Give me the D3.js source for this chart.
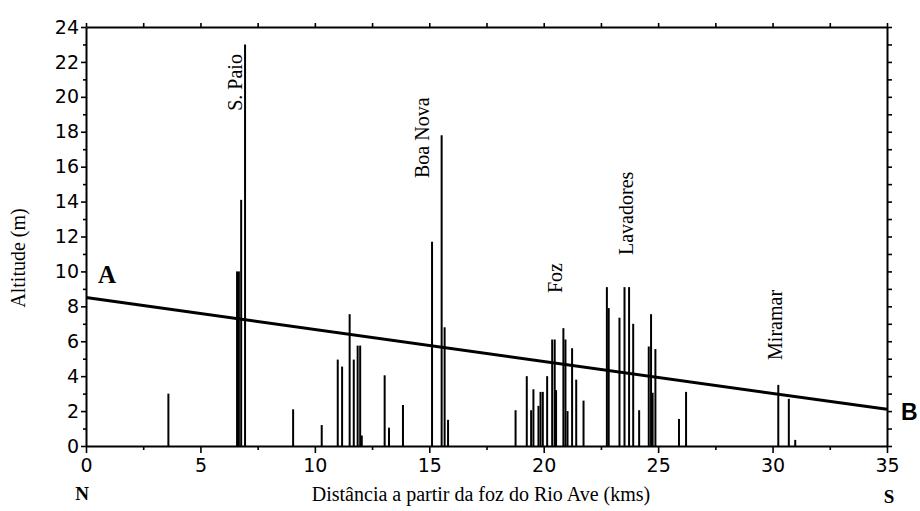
<!DOCTYPE html>
<html>
<head>
<meta charset="utf-8">
<script src="https://cdn.jsdelivr.net/npm/d3@7"></script>
<style>
  body { margin: 0; background: #fff; }
  svg { display: block; }
</style>
</head>
<body>
<svg id="chart" width="920" height="511"></svg>
<script>
// spot heights along the coast (km from the Ave mouth, altitude in m)
const distKm = [3.6, 6.6, 6.68, 6.78, 6.95, 9.05, 10.3, 11.0, 11.19, 11.52, 11.7, 11.87, 11.98, 12.05,
  13.05, 13.24, 13.85, 15.12, 15.54, 15.67, 15.82, 18.77, 19.26, 19.45, 19.55, 19.77, 19.86, 19.96,
  20.15, 20.37, 20.48, 20.54, 20.86, 20.95, 21.04, 21.24, 21.42, 21.74, 22.76, 22.84, 23.31, 23.53,
  23.73, 23.91, 24.17, 24.59, 24.69, 24.76, 24.88, 25.91, 26.22, 30.25, 30.71, 30.99]
const altM = [3.0, 10.0, 10.0, 14.1, 23.0, 2.1, 1.2, 4.95, 4.55, 7.55, 4.95, 5.75, 5.75, 0.6,
  4.05, 1.05, 2.35, 11.7, 17.8, 6.8, 1.5, 2.05, 4.0, 2.05, 3.25, 2.3, 3.1, 3.1,
  4.0, 6.1, 6.1, 3.2, 6.75, 6.1, 2.0, 5.6, 3.8, 2.6, 9.1, 7.9, 7.35, 9.1,
  9.1, 7.0, 2.05, 5.7, 7.55, 3.05, 5.55, 1.55, 3.1, 3.5, 2.7, 0.35]

// line A-B
const lineKm = [0, 35]
const lineAlt = [8.5, 2.1]

const placeNames = ["S. Paio", "Boa Nova", "Foz", "Lavadores", "Miramar"]
const placeKm = [6.8, 15.0, 20.8, 23.88, 30.4]
const placeAlt = [19.2, 15.35, 8.76, 10.94, 4.93]

const xMajor = [0, 5, 10, 15, 20, 25, 30, 35]
const yMajor = [0, 2, 4, 6, 8, 10, 12, 14, 16, 18, 20, 22, 24]

const svg = d3.select("#chart")
const sans = "'DejaVu Sans', Verdana, sans-serif"
const serif = "'Liberation Serif', 'Times New Roman', serif"

let xScale = d3.scaleLinear().domain([0, 35]).range([86, 887])
let yScale = d3.scaleLinear().domain([0, 24]).range([446, 27])

// axes
let minorX = d3.range(0, 35.01, 2.5).filter(v => v % 5 !== 0)
let minorY = d3.range(1, 24, 2)

let bottomMinorAxis = svg.append("g").attr("transform", `translate(0,${yScale(0)})`)
    .call(d3.axisBottom(xScale).tickValues(minorX).tickSize(4).tickFormat(""))
svg.append("g").attr("transform", `translate(0,${yScale(0)})`)
    .call(d3.axisBottom(xScale).tickValues(xMajor).tickSize(7).tickSizeOuter(0).tickPadding(6))
svg.append("g").attr("transform", `translate(0,${yScale(24)})`)
    .call(d3.axisTop(xScale).tickValues(d3.range(0, 35.01, 2.5)).tickSize(4).tickSizeOuter(0).tickFormat(""))
let leftMinorAxis = svg.append("g").attr("transform", `translate(${xScale(0)},0)`)
    .call(d3.axisLeft(yScale).tickValues(minorY).tickSize(3).tickFormat(""))
svg.append("g").attr("transform", `translate(${xScale(0)},0)`)
    .call(d3.axisLeft(yScale).tickValues(yMajor).tickSize(5).tickSizeOuter(0).tickPadding(2))
svg.append("g").attr("transform", `translate(${xScale(35)},0)`)
    .call(d3.axisRight(yScale).tickValues(d3.range(0, 24.01, 1)).tickSize(5).tickSizeOuter(0).tickFormat(""))

svg.selectAll(".domain").attr("stroke", "#000").attr("stroke-width", 2)
svg.selectAll(".tick line").attr("stroke", "#000").attr("stroke-width", 1.6)
svg.selectAll(".tick text").style("font-family", sans).style("font-size", "19px").attr("fill", "#000")
bottomMinorAxis.select(".domain").remove()
leftMinorAxis.select(".domain").remove()

// bars
let bars = distKm.map((d, i) => ({ km: d, alt: altM[i] }))
svg.append("g").selectAll("line").data(bars).join("line")
    .attr("x1", d => xScale(d.km)).attr("x2", d => xScale(d.km))
    .attr("y1", yScale(0)).attr("y2", d => yScale(d.alt))
    .attr("stroke", "#000").attr("stroke-width", 2)

// A-B line
let line = d3.line().x(d => xScale(d[0])).y(d => yScale(d[1]))
svg.append("path")
    .datum(lineKm.map((d, i) => [d, lineAlt[i]]))
    .attr("d", line)
    .attr("fill", "none")
    .attr("stroke", "#000")
    .attr("stroke-width", 3)

// place names
svg.append("g").selectAll("text").data(placeNames).join("text")
    .attr("transform", (d, i) => `translate(${xScale(placeKm[i])},${yScale(placeAlt[i])}) rotate(-90)`)
    .style("font-family", serif).style("font-size", "20px")
    .text(d => d)

// letters and titles
svg.append("text").attr("x", 98).attr("y", 283)
    .style("font-family", serif).style("font-weight", "bold").style("font-size", "25px").text("A")
svg.append("text").attr("x", 901).attr("y", 420)
    .style("font-family", "'Liberation Sans', Arial, sans-serif").style("font-weight", "bold")
    .style("font-size", "23px").text("B")
svg.append("text").attr("x", 82).attr("y", 500).attr("text-anchor", "middle")
    .style("font-family", serif).style("font-weight", "bold").style("font-size", "19px").text("N")
svg.append("text").attr("x", 889).attr("y", 503).attr("text-anchor", "middle")
    .style("font-family", serif).style("font-weight", "bold").style("font-size", "19px").text("S")

svg.append("text").attr("x", 481).attr("y", 501).attr("text-anchor", "middle")
    .style("font-family", serif).style("font-size", "20px")
    .text("Distância a partir da foz do Rio Ave (kms)")
svg.append("text").attr("transform", "translate(25,258) rotate(-90)").attr("text-anchor", "middle")
    .style("font-family", serif).style("font-size", "20px")
    .text("Altitude (m)")
</script>
</body>
</html>
